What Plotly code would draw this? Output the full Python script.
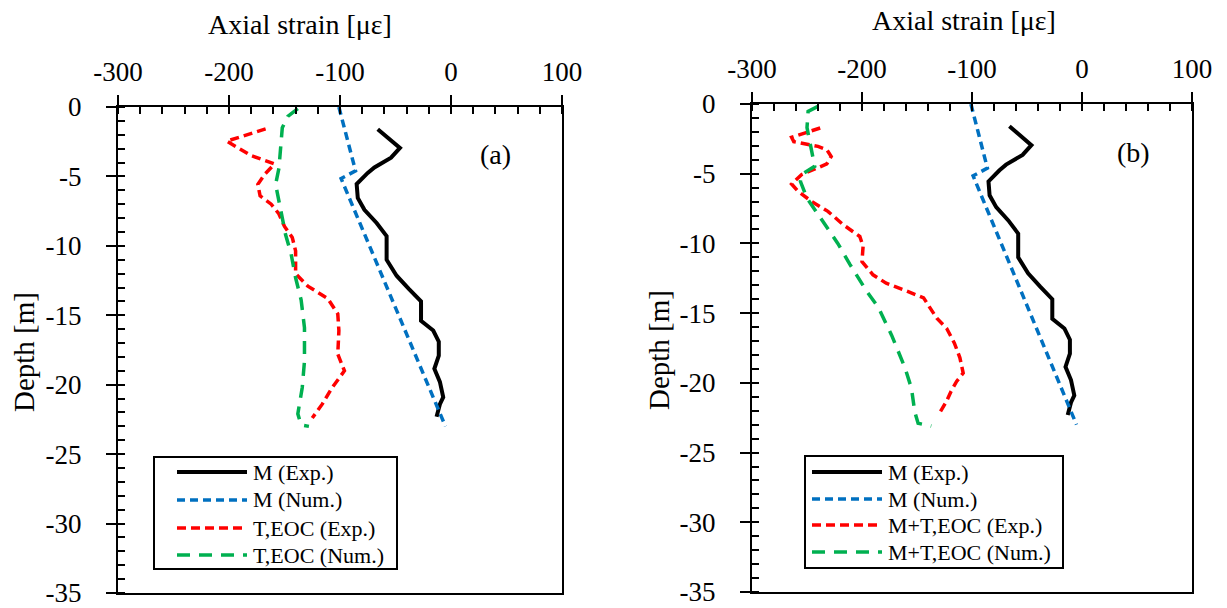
import plotly.graph_objects as go

W, H = 1227, 608
FONT = "Liberation Serif"

# ---------------- data ----------------
# M (Exp.) - measured strain under mechanical load (same in both panels)
m_exp_depth = [-1.6, -2.95, -3.65, -4.35, -4.75, -5.55, -6.55, -7.4, -8.35, -9.3, -11.0,
               -12.15, -13.1, -14.0, -15.4, -16.1, -16.9, -17.9, -18.85, -19.8, -20.9, -21.4, -22.3]
m_exp_strain = [-66, -46, -54, -69, -75, -85, -84, -78, -67, -58, -58,
                -49, -38, -27, -27, -16, -11, -11, -15, -10, -7, -10, -13]

# M (Num.)
m_num_depth = [0.0, -4.6, -5.15, -23.0]
m_num_strain = [-101, -86, -99, -5]

# (a) T,EOC (Exp.)
t_exp_depth = [-1.58, -2.46, -3.5, -4.1, -4.86, -5.57, -6.4, -7.0, -7.7, -8.6, -9.4, -10.36,
               -12.0, -12.9, -13.8, -14.9, -16.1, -17.8, -19.0, -20.2, -21.4, -22.4]
t_exp_strain = [-167, -202, -180, -159, -168, -174, -172, -162, -155, -150, -143, -140,
                 -140, -129, -111, -102, -101, -102, -96, -107, -116, -125]

# (a) T,EOC (Num.)
t_num_depth = [-0.12, -0.67, -1.5, -4.4, -5.57, -7.5, -9.2, -10.6, -12.3, -13.9, -15.9,
               -18.3, -20.2, -22.1, -22.9, -23.0]
t_num_strain = [-138, -147, -152, -155, -158, -153, -149, -144, -140, -135, -132,
                -132, -134, -138, -135, -128]

# (b) M+T,EOC (Exp.)
mt_exp_depth = [-1.72, -2.39, -2.7, -3.04, -3.28, -3.76, -4.3, -4.7, -5.07, -5.74, -6.27,
                -6.98, -7.7, -8.66, -9.5, -10.2, -11.3, -12.25, -12.85, -13.3, -13.9,
                -14.64, -15.36, -16.1, -17.15, -18.2, -19.3, -19.9, -20.6, -21.3, -22.1]
mt_exp_strain = [-238, -264, -262, -240, -232, -228, -232, -244, -255, -264, -258,
                 -246, -231, -217, -202, -199, -200, -190, -178, -163, -144,
                 -138, -132, -123, -116, -111, -108, -114, -119, -123, -129]

# (b) M+T,EOC (Num.)
mt_num_depth = [-0.17, -0.53, -1.7, -3.4, -4.47, -5.07, -5.55, -6.75, -8.3, -10.0, -11.5,
                -13.4, -14.6, -16.6, -18.9, -20.4, -22.1, -22.9, -23.1]
mt_num_strain = [-240, -249, -250, -246, -243, -255, -256, -250, -237, -222, -211,
                 -196, -185, -173, -161, -155, -152, -149, -137]

x_tickvals = [-300, -200, -100, 0, 100]
x_ticktext = ["-300", "-200", "-100", "0", "100"]
y_tickvals = [0, -5, -10, -15, -20, -25, -30, -35]
y_ticktext = ["0", "-5", "-10", "-15", "-20", "-25", "-30", "-35"]

legend_a_names = ["M (Exp.)", "M (Num.)", "T,EOC (Exp.)", "T,EOC (Num.)"]
legend_b_names = ["M (Exp.)", "M (Num.)", "M+T,EOC (Exp.)", "M+T,EOC (Num.)"]

# ---------------- styles ----------------
BLACK = "#000000"
BLUE = "#0070C0"
RED = "#FF0000"
GREEN = "#00B050"
series_styles = [
    dict(color=BLACK, dash="solid", width=4),
    dict(color=BLUE, dash="8px,5px", width=3.5),
    dict(color=RED, dash="9px,5px", width=3.5),
    dict(color=GREEN, dash="13px,9px", width=3.5),
]

fig = go.Figure()

panel_a = [(m_exp_strain, m_exp_depth), (m_num_strain, m_num_depth),
           (t_exp_strain, t_exp_depth), (t_num_strain, t_num_depth)]
panel_b = [(m_exp_strain, m_exp_depth), (m_num_strain, m_num_depth),
           (mt_exp_strain, mt_exp_depth), (mt_num_strain, mt_num_depth)]

for (xs, ys), name, st in zip(panel_a, legend_a_names, series_styles):
    fig.add_trace(go.Scatter(x=xs, y=ys, mode="lines", name=name, line=st,
                             xaxis="x", yaxis="y", showlegend=False))
for (xs, ys), name, st in zip(panel_b, legend_b_names, series_styles):
    fig.add_trace(go.Scatter(x=xs, y=ys, mode="lines", name=name, line=st,
                             xaxis="x2", yaxis="y2", showlegend=False))


def xcfg(x0, x1, anchor):
    return dict(domain=[x0 / W, x1 / W], anchor=anchor, range=[-300, 100], side="top",
                automargin=False, ticklabeloverflow="allow",
                tickmode="array", tickvals=x_tickvals, ticktext=x_ticktext,
                showline=True, linecolor="black", linewidth=2, mirror=True,
                ticks="outside", ticklen=10, tickwidth=2, tickcolor="black",
                ticklabelstandoff=3,
                minor=dict(tickmode="linear", tick0=0, dtick=20, ticks="inside",
                           ticklen=7, tickwidth=2, tickcolor="black", showgrid=False),
                showgrid=False, zeroline=False,
                tickfont=dict(family=FONT, size=27, color="black"))


def ycfg(y_top, y_bot, anchor):
    return dict(domain=[1 - y_bot / H, 1 - y_top / H], anchor=anchor, range=[-35, 0],
                automargin=False, ticklabeloverflow="allow",
                tickmode="array", tickvals=y_tickvals, ticktext=y_ticktext,
                showline=True, linecolor="black", linewidth=2, mirror=True,
                ticks="outside", ticklen=10, tickwidth=2, tickcolor="black",
                ticklabelstandoff=19,
                minor=dict(tickmode="linear", tick0=0, dtick=1, ticks="inside",
                           ticklen=7, tickwidth=2, tickcolor="black", showgrid=False),
                showgrid=False, zeroline=False,
                tickfont=dict(family=FONT, size=27, color="black"))


def px(x, y):
    return x / W, 1 - y / H


shapes = []
annotations = []


def text(s, x, y, size, xanchor="center", yanchor="middle", angle=0):
    ax, ay = px(x, y)
    annotations.append(dict(text=s, x=ax, y=ay, xref="paper", yref="paper",
                            xanchor=xanchor, yanchor=yanchor, textangle=angle,
                            showarrow=False,
                            font=dict(family=FONT, size=size, color="black")))


def legend_box(names, box, rows, sample_x, text_x):
    x0, y0, x1, y1 = box
    bx0, by0 = px(x0, y1)
    bx1, by1 = px(x1, y0)
    shapes.append(dict(type="rect", xref="paper", yref="paper", x0=bx0, y0=by0,
                       x1=bx1, y1=by1, line=dict(color="black", width=2),
                       fillcolor="white", layer="above"))
    for name, st, ry in zip(names, series_styles, rows):
        lx0, ly = px(sample_x[0], ry)
        lx1, _ = px(sample_x[1], ry)
        shapes.append(dict(type="line", xref="paper", yref="paper", x0=lx0, x1=lx1,
                           y0=ly, y1=ly, layer="above",
                           line=dict(color=st["color"], dash=st["dash"], width=st["width"])))
        text(name, text_x, ry, 22, xanchor="left")


legend_box(legend_a_names, (154, 457, 397, 569), [472, 500, 528, 555], (177, 247), 251)
legend_box(legend_b_names, (805, 456, 1063, 568), [472, 499, 525, 552], (812, 882), 886)

text("Axial strain [με]", 300, 24, 28)
text("Axial strain [με]", 964, 21, 28)
text("Depth [m]", 24, 352, 29, angle=-90)
text("Depth [m]", 659, 350, 29, angle=-90)
text("(a)", 496, 155, 28)
text("(b)", 1133, 152, 28)

fig.update_layout(
    width=W, height=H, autosize=False,
    margin=dict(l=0, r=0, t=0, b=0, autoexpand=False),
    paper_bgcolor="white", plot_bgcolor="white",
    font=dict(family=FONT, color="black"),
    showlegend=False,
    xaxis=xcfg(118, 562, "y"),
    yaxis=ycfg(107, 593, "x"),
    xaxis2=xcfg(752, 1192, "y2"),
    yaxis2=ycfg(104, 592, "x2"),
    shapes=shapes,
    annotations=annotations,
)

fig.write_html("out.html")
